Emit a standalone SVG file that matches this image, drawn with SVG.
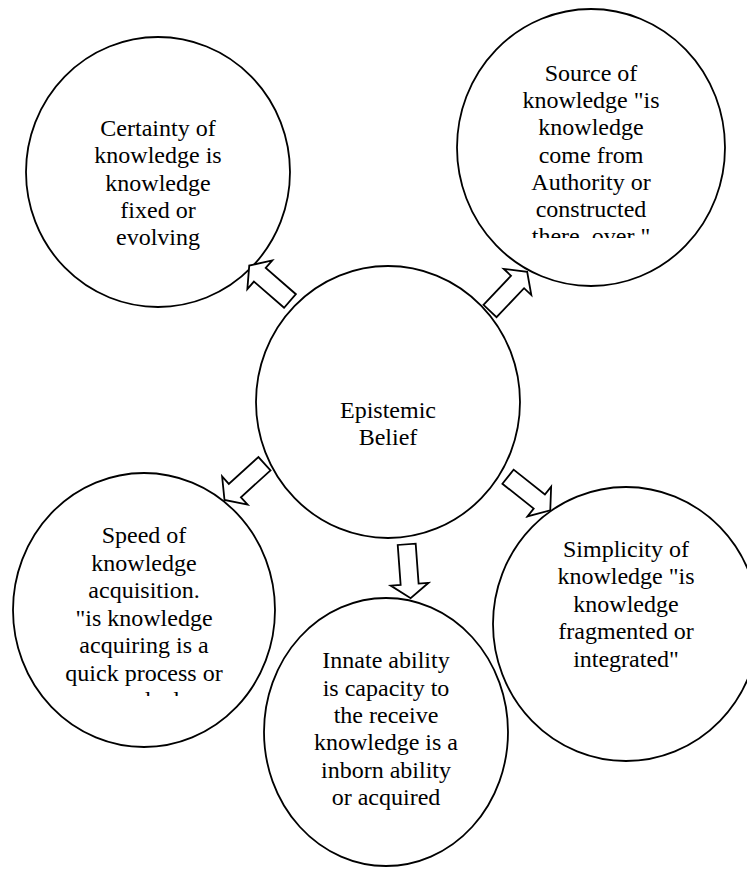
<svg xmlns="http://www.w3.org/2000/svg" width="747" height="870" viewBox="0 0 747 870">
<style>
.n{fill:#fff;stroke:#000;stroke-width:1.8}
text{font-family:Liberation Serif, Times New Roman, serif;font-size:24px;fill:#000;text-anchor:middle}
.a{fill:#fff;stroke:#000;stroke-width:1.8;stroke-linejoin:miter}
</style>
<defs>
<path id="arr" d="M0,-9 L40,-9 L40,-19 L54,0 L40,19 L40,9 L0,9 Z"/>
<clipPath id="cSrc"><rect x="440" y="0" width="307" height="238"/></clipPath>
<clipPath id="cSpd"><rect x="0" y="460" width="300" height="236"/></clipPath>
</defs>
<rect width="747" height="870" fill="#fff"/>
<g id="certainty">
<ellipse class="n" cx="158" cy="172" rx="132" ry="135"/>
<text font-family="Liberation Serif"><tspan x="158" y="136">Certainty of</tspan><tspan x="158" y="163.3">knowledge is</tspan><tspan x="158" y="190.5">knowledge</tspan><tspan x="158" y="217.7">fixed or</tspan><tspan x="158" y="245">evolving</tspan></text>
</g>
<g id="source">
<ellipse class="n" cx="591" cy="147.5" rx="134" ry="138.5"/>
<text font-family="Liberation Serif" clip-path="url(#cSrc)"><tspan x="591" y="81">Source of</tspan><tspan x="591" y="108.2">knowledge "is</tspan><tspan x="591" y="135.4">knowledge</tspan><tspan x="591" y="162.6">come from</tspan><tspan x="591" y="189.8">Authority or</tspan><tspan x="591" y="217">constructed</tspan><tspan x="591" y="244.2">there, over "</tspan></text>
</g>
<g id="speed">
<ellipse class="n" cx="144" cy="610" rx="131" ry="137"/>
<text font-family="Liberation Serif" clip-path="url(#cSpd)"><tspan x="144" y="543.3">Speed of</tspan><tspan x="144" y="570.8">knowledge</tspan><tspan x="144" y="598.3">acquisition.</tspan><tspan x="144" y="625.8">"is knowledge</tspan><tspan x="144" y="653.3">acquiring is a</tspan><tspan x="144" y="680.8">quick process or</tspan><tspan x="144" y="708.3">gradual</tspan></text>
</g>
<g id="simplicity">
<ellipse class="n" cx="626" cy="624" rx="133" ry="137"/>
<text font-family="Liberation Serif"><tspan x="626" y="556.7">Simplicity of</tspan><tspan x="626" y="584.2">knowledge "is</tspan><tspan x="626" y="611.7">knowledge</tspan><tspan x="626" y="639.2">fragmented or</tspan><tspan x="626" y="666.7">integrated"</tspan></text>
</g>
<g id="innate">
<ellipse class="n" cx="386" cy="732" rx="122" ry="134"/>
<text font-family="Liberation Serif"><tspan x="386" y="668.3">Innate ability</tspan><tspan x="386" y="695.6">is capacity to</tspan><tspan x="386" y="722.9">the receive</tspan><tspan x="386" y="750.2">knowledge is a</tspan><tspan x="386" y="777.5">inborn ability</tspan><tspan x="386" y="804.8">or acquired</tspan></text>
</g>
<g id="epistemic">
<ellipse class="n" cx="388" cy="402" rx="132" ry="136"/>
<text font-family="Liberation Serif"><tspan x="388" y="418">Epistemic</tspan><tspan x="388" y="445">Belief</tspan></text>
</g>
<g id="connectors">
<use href="#arr" class="a" transform="translate(290,301) rotate(221)"/>
<use href="#arr" class="a" transform="translate(490,311) rotate(-46.5)"/>
<use href="#arr" class="a" transform="translate(264.5,463.7) rotate(137.8)"/>
<use href="#arr" class="a" transform="translate(508,476.7) rotate(38.5)"/>
<use href="#arr" class="a" transform="translate(406.7,544.3) rotate(85.8)"/>
</g>
</svg>
